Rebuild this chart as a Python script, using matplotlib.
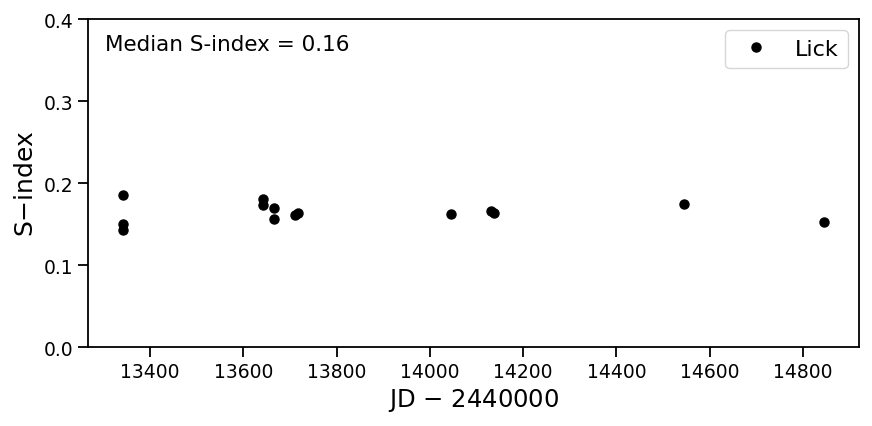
import numpy as np
import matplotlib
matplotlib.use('Agg')
import matplotlib.pyplot as plt

# Lick S-index measurements (JD - 2440000)
jd = [13342, 13342, 13342, 13642, 13642, 13666, 13666, 13710, 13717,
      14045, 14132, 14137, 14545, 14845]
sindex = [0.186, 0.150, 0.143, 0.181, 0.173, 0.170, 0.156, 0.161, 0.163,
          0.162, 0.166, 0.163, 0.174, 0.153]

fig = plt.figure(figsize=(8.72, 4.27), dpi=100)
ax = fig.add_axes([0.101, 0.185, 0.884, 0.768])

ax.plot(jd, sindex, 'o', color='black', ms=6.5, label='Lick')

ax.set_ylim(0, 0.4)
ax.set_yticks([0.0, 0.1, 0.2, 0.3, 0.4])
ax.set_xticks(np.arange(13400, 14801, 200))
ax.set_xlabel('JD $-$ 2440000', fontsize=17.5)
ax.set_ylabel('S$-$index', fontsize=18)
ax.tick_params(labelsize=13.5, length=7, width=1.3)
for s in ax.spines.values():
    s.set_linewidth(1.3)

med = np.median(sindex)
ax.text(0.022, 0.925, 'Median S-index = %.2f' % med, transform=ax.transAxes,
        fontsize=15.5, va='center', ha='left')
ax.legend(loc='upper right', fontsize=16, handletextpad=0.75)

fig.savefig('out.png', dpi=100)
